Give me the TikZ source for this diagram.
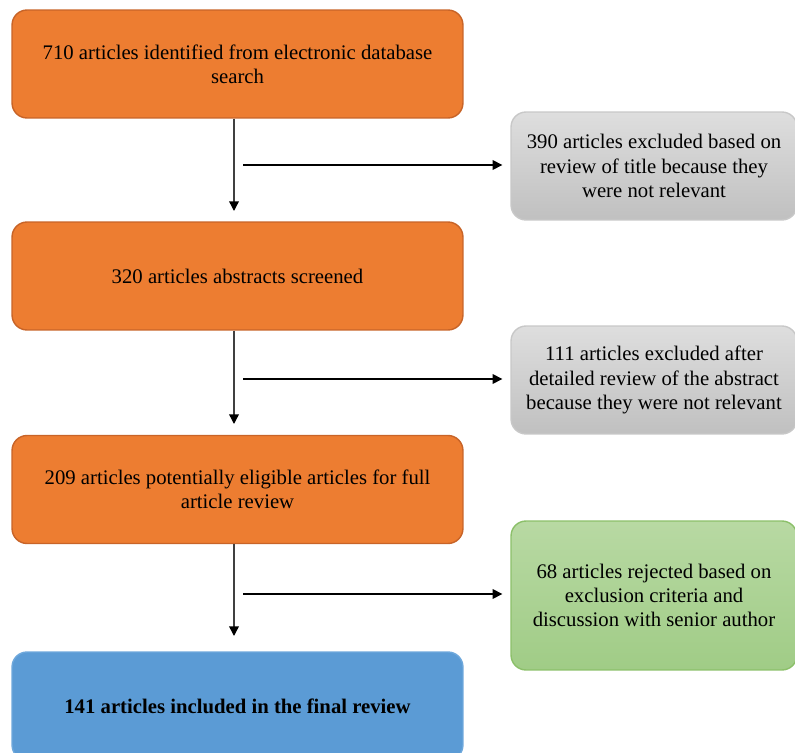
\documentclass[tikz,border=0pt]{standalone}
\usepackage{fontspec}
\setmainfont{Liberation Serif}
\usetikzlibrary{arrows.meta}
\definecolor{carrot}{RGB}{237, 125, 49}
\definecolor{pumpkin}{RGB}{200, 100, 40}
\definecolor{silvertop}{RGB}{222, 222, 222}
\definecolor{silverbot}{RGB}{192, 192, 192}
\definecolor{silverline}{RGB}{200, 200, 200}
\definecolor{mosstop}{RGB}{184, 217, 163}
\definecolor{mossbot}{RGB}{160, 204, 134}
\definecolor{mossline}{RGB}{140, 192, 106}
\definecolor{belize}{RGB}{91, 155, 213}
\definecolor{belizeline}{RGB}{110, 168, 220}
\definecolor{asphalt}{RGB}{64, 64, 64}

\begin{document}
\begin{tikzpicture}[x=0.02cm, y=-0.02cm,
    basebox/.style={rounded corners=0.3cm, align=center, inner sep=0pt,
                    font=\fontsize{11.8}{13.8}\selectfont, line width=0.8pt},
    stagebox/.style={basebox, fill=carrot, draw=pumpkin,
                     minimum width=9.02cm, minimum height=2.16cm},
    dropbox/.style={basebox, top color=silvertop, bottom color=silverbot, draw=silverline,
                    minimum width=5.72cm, minimum height=2.16cm},
    rejectbox/.style={basebox, top color=mosstop, bottom color=mossbot, draw=mossline,
                      minimum width=5.72cm, minimum height=2.98cm},
    finalbox/.style={basebox, fill=belize, draw=belizeline,
                     minimum width=9.02cm, minimum height=2.16cm, font=\fontsize{11.8}{13.8}\selectfont\bfseries},
    downarrow/.style={draw=asphalt, line width=0.8pt, -{Triangle[length=5.5pt, width=5.5pt, black]}},
    sidearrow/.style={draw=black, line width=0.8pt, -{Triangle[length=5.5pt, width=5.5pt]}, shorten >=0.16cm}]
    \clip (0,0) rectangle (795,753);
    % main stages
    \node[stagebox] (search)   at (237.5, 64.0) {710 articles identified from electronic database\\search};
    \node[stagebox] (abstract) at (237.5,276.0) {320 articles abstracts screened};
    \node[stagebox] (eligible) at (237.5,489.5) {209 articles potentially eligible articles for full\\article review};
    \node[finalbox] (included) at (237.5,706.0) {141 articles included in the final review};
    % exclusions
    \node[dropbox]   (title)    at (654.0,166.0) {390 articles excluded based on\\review of title because they\\were not relevant};
    \node[dropbox]   (detail)   at (654.0,380.0) {111 articles excluded after\\detailed review of the abstract\\because they were not relevant};
    \node[rejectbox] (criteria) at (654.0,595.5) {68 articles rejected based on\\exclusion criteria and\\discussion with senior author};
    % connectors
    \coordinate (tip1) at (234,211);
    \coordinate (tip2) at (234,424);
    \coordinate (tip3) at (234,636);
    \coordinate (off1) at (243,165);
    \coordinate (off2) at (243,379);
    \coordinate (off3) at (243,594);
    \draw[downarrow] (search.south -| tip1)   -- (tip1);
    \draw[downarrow] (abstract.south -| tip2) -- (tip2);
    \draw[downarrow] (eligible.south -| tip3) -- (tip3);
    \draw[sidearrow] (off1) -- (off1 -| title.west);
    \draw[sidearrow] (off2) -- (off2 -| detail.west);
    \draw[sidearrow] (off3) -- (off3 -| criteria.west);
\end{tikzpicture}
\end{document}
